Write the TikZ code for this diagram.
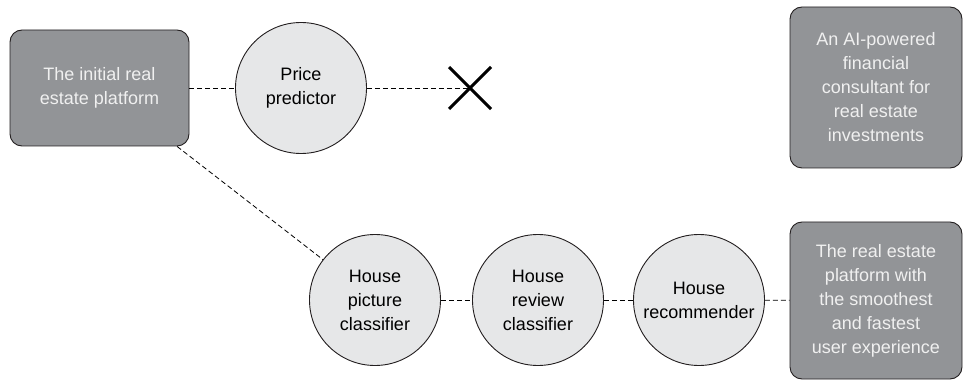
\documentclass[tikz,border=0pt]{standalone}
\usepackage{fontspec}
\setmainfont{Liberation Sans}
\usetikzlibrary{calc}
\definecolor{boxgray}{RGB}{146,148,151}
\definecolor{circgray}{RGB}{230,231,232}
\definecolor{edgegray}{RGB}{35,31,32}
\begin{document}
\begin{tikzpicture}[x=1pt,y=-1pt,
  goalbox/.style={draw=edgegray,line width=0.9pt,fill=boxgray,rounded corners=12pt,
    text=white!94!black,align=center,font=\fontsize{18}{24}\selectfont},
  model/.style={circle,draw=edgegray,line width=0.9pt,fill=circgray,minimum size=131pt,
    inner sep=0pt,align=center,font=\fontsize{18}{24}\selectfont},
  link/.style={dashed,dash pattern=on 5pt off 3pt,line width=0.8pt}]
\useasboundingbox (0,0) rectangle (964,382);
% targets
\node[goalbox,minimum width=179pt,minimum height=116pt] (start) at (99.5,88) {The initial real\\estate platform};
\node[goalbox,minimum width=172pt,minimum height=161pt] (advisor) at (876,87.5) {An AI-powered\\financial\\consultant for\\real estate\\investments};
\node[goalbox,minimum width=172pt,minimum height=157pt] (smooth) at (876,300.5) {The real estate\\platform with\\the smoothest\\and fastest\\user experience};

% models
\node[model] (price) at (301,88) {Price\\predictor};
\node[model] (picture) at (375,300) {House\\picture\\classifier};
\node[model] (review) at (538,300) {House\\review\\classifier};
\node[model] (recommend) at (699,300) {House\\recommender};

% dead end
\coordinate (stop) at (470,88);
\draw[line width=3pt] ($(stop)+(-21,-21)$) -- ($(stop)+(21,21)$);
\draw[line width=3pt] ($(stop)+(-21,21)$) -- ($(stop)+(21,-21)$);

\draw[link] (start) -- (price);
\draw[link] (price) -- (stop);
\draw[link] (start.-37) -- (picture);
\draw[link] (picture) -- (review);
\draw[link] (review) -- (recommend);
\draw[link] (recommend) -- (smooth);
\end{tikzpicture}
\end{document}
